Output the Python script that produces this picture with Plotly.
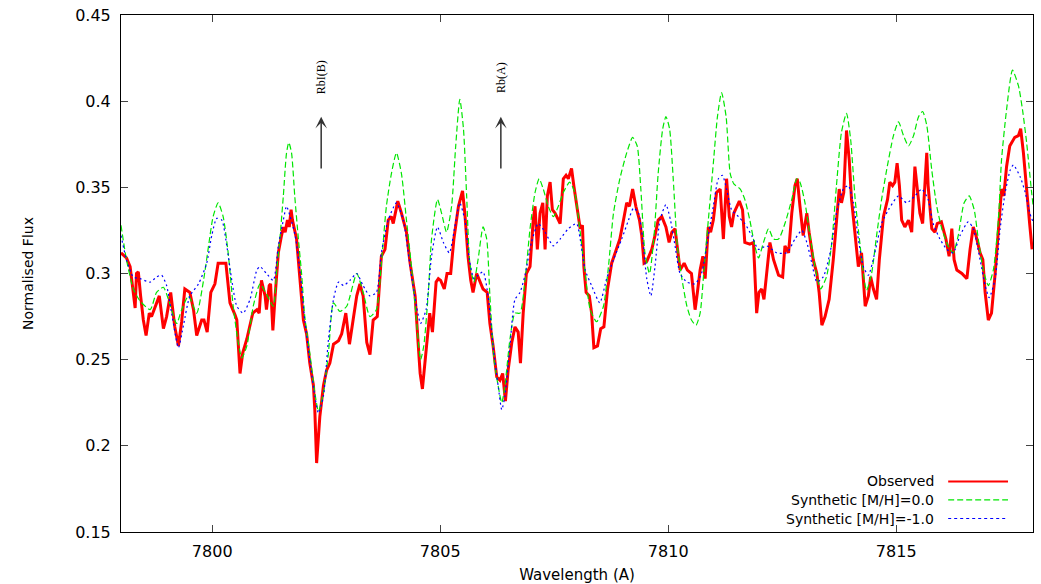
import plotly.graph_objects as go

# ---------------- data ----------------
obs_x = [7798.00, 7798.12, 7798.20, 7798.27, 7798.31, 7798.34, 7798.38, 7798.43, 7798.49, 7798.55,
         7798.62, 7798.67, 7798.75, 7798.84, 7798.93, 7799.00, 7799.09, 7799.18, 7799.26, 7799.33,
         7799.40, 7799.51, 7799.59, 7799.66, 7799.77, 7799.82, 7799.89, 7799.97, 7800.06, 7800.13,
         7800.30, 7800.39, 7800.50, 7800.54, 7800.61, 7800.67, 7800.76, 7800.89, 7800.98, 7801.03,
         7801.08, 7801.16, 7801.19, 7801.25, 7801.28, 7801.33, 7801.38, 7801.45, 7801.52, 7801.56,
         7801.60, 7801.65, 7801.69, 7801.73, 7801.76, 7801.81, 7801.85, 7801.92, 7802.00, 7802.07,
         7802.14, 7802.22, 7802.25, 7802.29, 7802.33, 7802.36, 7802.44, 7802.51, 7802.58, 7802.66,
         7802.77, 7802.84, 7802.93, 7803.01,
         7803.09, 7803.17, 7803.24, 7803.31, 7803.39, 7803.46, 7803.53, 7803.62, 7803.71, 7803.79,
         7803.86, 7803.93, 7803.97, 7804.07, 7804.15, 7804.26, 7804.34, 7804.45, 7804.52, 7804.56,
         7804.61, 7804.66, 7804.72, 7804.77, 7804.83, 7804.91, 7804.96, 7805.01, 7805.09, 7805.15,
         7805.23, 7805.30, 7805.40, 7805.49, 7805.54, 7805.61, 7805.67, 7805.72, 7805.80, 7805.86,
         7805.94, 7806.03, 7806.09, 7806.16, 7806.24, 7806.31, 7806.37, 7806.43, 7806.49, 7806.57,
         7806.64, 7806.71, 7806.76, 7806.82, 7806.89, 7806.97, 7807.04, 7807.08, 7807.13, 7807.19,
         7807.25, 7807.30, 7807.35, 7807.41, 7807.46, 7807.52, 7807.63, 7807.70, 7807.76, 7807.81,
         7807.88, 7807.93, 7808.03,
         7808.07, 7808.12, 7808.15, 7808.20, 7808.27, 7808.32, 7808.37, 7808.45, 7808.52, 7808.59,
         7808.67, 7808.76, 7808.87, 7808.94, 7809.02, 7809.09, 7809.15, 7809.22, 7809.29, 7809.37,
         7809.42, 7809.47, 7809.53, 7809.64, 7809.71, 7809.78, 7809.86, 7809.95, 7810.02, 7810.08,
         7810.15, 7810.20, 7810.26, 7810.35, 7810.42, 7810.51, 7810.59, 7810.64, 7810.70, 7810.76,
         7810.81, 7810.88, 7810.93, 7810.99, 7811.06, 7811.14, 7811.21, 7811.28, 7811.34, 7811.39,
         7811.44, 7811.56, 7811.63, 7811.68, 7811.79, 7811.87, 7811.90, 7811.94, 7811.99, 7812.05,
         7812.10, 7812.16, 7812.23, 7812.31, 7812.42, 7812.51, 7812.56, 7812.64, 7812.71, 7812.78,
         7812.83,
         7812.89, 7812.96, 7813.04, 7813.09, 7813.18, 7813.26, 7813.31, 7813.37, 7813.44, 7813.53,
         7813.62, 7813.69, 7813.75, 7813.80, 7813.85, 7813.91, 7813.97, 7814.02, 7814.10, 7814.17,
         7814.24, 7814.32, 7814.39, 7814.44, 7814.50, 7814.57, 7814.63, 7814.72, 7814.81, 7814.86,
         7814.92, 7814.97, 7815.02, 7815.07, 7815.12, 7815.19, 7815.27, 7815.34, 7815.41, 7815.46,
         7815.52, 7815.58, 7815.63, 7815.67, 7815.70, 7815.78, 7815.85, 7815.90, 7815.99, 7816.09,
         7816.16, 7816.22, 7816.27, 7816.33, 7816.44, 7816.55, 7816.62, 7816.69, 7816.75, 7816.84,
         7816.90, 7816.95, 7817.02, 7817.09, 7817.17, 7817.24, 7817.31, 7817.36, 7817.42, 7817.49,
         7817.60, 7817.68, 7817.73, 7817.79, 7817.86, 7817.93, 7817.98]
obs_y = [0.312, 0.309, 0.304, 0.289, 0.280, 0.300, 0.301, 0.287, 0.273, 0.264,
         0.277, 0.275, 0.281, 0.287, 0.268, 0.275, 0.289, 0.269, 0.258, 0.272,
         0.291, 0.289, 0.279, 0.264, 0.273, 0.273, 0.266, 0.289, 0.294, 0.306,
         0.306, 0.283, 0.276, 0.273, 0.242, 0.254, 0.262, 0.277, 0.279, 0.277,
         0.296, 0.287, 0.279, 0.293, 0.294, 0.267, 0.287, 0.312, 0.322, 0.327,
         0.324, 0.331, 0.327, 0.337, 0.331, 0.324, 0.320, 0.298, 0.273, 0.265,
         0.248, 0.235, 0.221, 0.190, 0.207, 0.217, 0.235, 0.244, 0.248, 0.259,
         0.261, 0.265, 0.277, 0.259,
         0.273, 0.287, 0.294, 0.287, 0.260, 0.253, 0.273, 0.275, 0.310, 0.314,
         0.331, 0.333, 0.329, 0.342, 0.335, 0.324, 0.306, 0.287, 0.258, 0.242,
         0.233, 0.246, 0.264, 0.277, 0.266, 0.295, 0.297, 0.296, 0.291, 0.300,
         0.300, 0.320, 0.339, 0.348, 0.335, 0.310, 0.296, 0.289, 0.300, 0.296,
         0.291, 0.289, 0.271, 0.258, 0.240, 0.238, 0.242, 0.226, 0.244, 0.260,
         0.269, 0.266, 0.248, 0.277, 0.300, 0.304, 0.331, 0.339, 0.314, 0.335,
         0.341, 0.314, 0.345, 0.353, 0.337, 0.335, 0.329, 0.355, 0.357, 0.355,
         0.361, 0.351, 0.335,
         0.326, 0.328, 0.304, 0.289, 0.287, 0.277, 0.257, 0.258, 0.268, 0.269,
         0.291, 0.306, 0.314, 0.320, 0.331, 0.341, 0.339, 0.349, 0.339, 0.331,
         0.322, 0.306, 0.307, 0.314, 0.322, 0.331, 0.333, 0.327, 0.318, 0.324,
         0.326, 0.314, 0.302, 0.306, 0.302, 0.300, 0.279, 0.289, 0.302, 0.310,
         0.297, 0.327, 0.324, 0.331, 0.347, 0.349, 0.320, 0.355, 0.333, 0.327,
         0.335, 0.342, 0.337, 0.318, 0.317, 0.318, 0.300, 0.277, 0.289, 0.291,
         0.285, 0.300, 0.318, 0.308, 0.299, 0.298, 0.316, 0.312, 0.335, 0.351,
         0.355,
         0.339, 0.322, 0.335, 0.324, 0.308, 0.300, 0.289, 0.270, 0.275, 0.285,
         0.308, 0.329, 0.349, 0.341, 0.347, 0.383, 0.366, 0.343, 0.324, 0.304,
         0.312, 0.281, 0.287, 0.298, 0.291, 0.285, 0.308, 0.333, 0.343, 0.353,
         0.351, 0.353, 0.364, 0.351, 0.331, 0.327, 0.331, 0.324, 0.362, 0.351,
         0.335, 0.329, 0.355, 0.370, 0.351, 0.326, 0.324, 0.329, 0.330, 0.320,
         0.310, 0.326, 0.308, 0.302, 0.300, 0.297, 0.314, 0.327, 0.322, 0.312,
         0.308, 0.289, 0.273, 0.277, 0.300, 0.326, 0.349, 0.345, 0.362, 0.374,
         0.379, 0.380, 0.384, 0.370, 0.351, 0.328, 0.314]

syn0_x = [7798.00, 7798.12, 7798.27, 7798.42, 7798.64, 7798.78, 7798.93, 7799.04, 7799.22, 7799.33,
          7799.48, 7799.66, 7799.81, 7799.92, 7800.02, 7800.13, 7800.24, 7800.35, 7800.46, 7800.57,
          7800.65, 7800.76, 7800.90, 7801.05, 7801.19, 7801.34, 7801.41, 7801.49, 7801.56, 7801.63,
          7801.68, 7801.74, 7801.81, 7801.89, 7801.96, 7802.03, 7802.14, 7802.25, 7802.33, 7802.44,
          7802.55, 7802.66, 7802.80, 7802.95,
          7803.17, 7803.31, 7803.46, 7803.60, 7803.71, 7803.82, 7803.93, 7804.04, 7804.15, 7804.26,
          7804.37, 7804.48, 7804.57, 7804.64, 7804.74, 7804.81, 7804.94, 7805.03, 7805.14, 7805.25,
          7805.34, 7805.43, 7805.51, 7805.58, 7805.65, 7805.74, 7805.83, 7805.94, 7806.02, 7806.09,
          7806.18, 7806.27, 7806.35, 7806.42, 7806.53, 7806.64, 7806.75, 7806.86, 7806.97, 7807.08,
          7807.17, 7807.26, 7807.37, 7807.48, 7807.59, 7807.70, 7807.84, 7807.95,
          7808.07, 7808.18, 7808.29, 7808.43, 7808.58, 7808.69, 7808.80, 7808.94, 7809.09, 7809.22,
          7809.32, 7809.40, 7809.49, 7809.59, 7809.69, 7809.78, 7809.88, 7809.95, 7810.03, 7810.11,
          7810.20, 7810.30, 7810.41, 7810.51, 7810.61, 7810.70, 7810.79, 7810.88, 7810.99, 7811.08,
          7811.17, 7811.27, 7811.36, 7811.44, 7811.58, 7811.68, 7811.79, 7811.90, 7811.98, 7812.09,
          7812.20, 7812.31, 7812.42, 7812.56, 7812.71, 7812.82,
          7812.89, 7813.00, 7813.11, 7813.22, 7813.34, 7813.47, 7813.58, 7813.69, 7813.80, 7813.91,
          7814.00, 7814.10, 7814.21, 7814.28, 7814.35, 7814.46, 7814.57, 7814.68, 7814.79, 7814.94,
          7815.05, 7815.16, 7815.27, 7815.38, 7815.49, 7815.58, 7815.67, 7815.78, 7815.89, 7816.00,
          7816.14, 7816.25, 7816.36, 7816.49, 7816.60, 7816.71, 7816.80, 7816.91, 7817.02, 7817.13,
          7817.24, 7817.31, 7817.42, 7817.55, 7817.68, 7817.77, 7817.86, 7817.97, 7818.00]
syn0_y = [0.328, 0.308, 0.291, 0.284, 0.279, 0.289, 0.292, 0.285, 0.271, 0.279,
          0.287, 0.277, 0.296, 0.316, 0.333, 0.341, 0.333, 0.312, 0.281, 0.260,
          0.251, 0.258, 0.281, 0.294, 0.288, 0.281, 0.300, 0.322, 0.345, 0.370,
          0.376, 0.370, 0.345, 0.320, 0.300, 0.275, 0.254, 0.231, 0.220, 0.231,
          0.254, 0.283, 0.278, 0.281,
          0.300, 0.289, 0.275, 0.279, 0.306, 0.339, 0.358, 0.370, 0.358, 0.331,
          0.304, 0.273, 0.250, 0.258, 0.289, 0.320, 0.343, 0.335, 0.324, 0.339,
          0.374, 0.401, 0.384, 0.345, 0.306, 0.295, 0.308, 0.327, 0.320, 0.287,
          0.250, 0.235, 0.225, 0.235, 0.262, 0.277, 0.277, 0.296, 0.326, 0.347,
          0.355, 0.349, 0.339, 0.333, 0.339, 0.347, 0.353, 0.347,
          0.324, 0.300, 0.279, 0.272, 0.281, 0.304, 0.335, 0.355, 0.370, 0.379,
          0.374, 0.349, 0.312, 0.300, 0.322, 0.358, 0.384, 0.391, 0.384, 0.355,
          0.316, 0.297, 0.281, 0.273, 0.270, 0.277, 0.304, 0.331, 0.364, 0.391,
          0.405, 0.391, 0.358, 0.352, 0.349, 0.343, 0.331, 0.316, 0.309, 0.318,
          0.326, 0.320, 0.320, 0.329, 0.343, 0.355,
          0.353, 0.341, 0.322, 0.304, 0.291, 0.298, 0.316, 0.351, 0.382, 0.393,
          0.378, 0.343, 0.316, 0.300, 0.290, 0.300, 0.322, 0.343, 0.360, 0.380,
          0.388, 0.380, 0.374, 0.380, 0.391, 0.394, 0.386, 0.360, 0.339, 0.326,
          0.316, 0.312, 0.322, 0.341, 0.345, 0.337, 0.320, 0.302, 0.293, 0.302,
          0.331, 0.366, 0.395, 0.418, 0.409, 0.395, 0.376, 0.347, 0.340]

synm1_x = [7798.00, 7798.12, 7798.27, 7798.42, 7798.64, 7798.78, 7798.89, 7799.00, 7799.11, 7799.26,
           7799.37, 7799.51, 7799.70, 7799.88, 7799.99, 7800.10, 7800.21, 7800.32, 7800.43, 7800.54,
           7800.68, 7800.83, 7800.98, 7801.05, 7801.19, 7801.34, 7801.45, 7801.56, 7801.63, 7801.71,
           7801.82, 7801.93, 7802.03, 7802.14, 7802.25, 7802.33, 7802.44, 7802.55, 7802.66, 7802.77,
           7802.88, 7803.02,
           7803.17, 7803.31, 7803.46, 7803.60, 7803.71, 7803.86, 7804.04, 7804.19, 7804.34, 7804.48,
           7804.57, 7804.69, 7804.81, 7804.94, 7805.07, 7805.20, 7805.32, 7805.43, 7805.54, 7805.64,
           7805.74, 7805.83, 7805.94, 7806.05, 7806.16, 7806.27, 7806.35, 7806.42, 7806.53, 7806.64,
           7806.75, 7806.86, 7807.00, 7807.15, 7807.30, 7807.48, 7807.63, 7807.81, 7807.99,
           7808.07, 7808.18, 7808.32, 7808.50, 7808.65, 7808.80, 7808.98, 7809.13, 7809.24, 7809.35,
           7809.44, 7809.53, 7809.62, 7809.71, 7809.82, 7809.95, 7810.05, 7810.15, 7810.26, 7810.41,
           7810.59, 7810.73, 7810.88, 7810.99, 7811.10, 7811.19, 7811.28, 7811.39, 7811.54, 7811.68,
           7811.83, 7811.98, 7812.16, 7812.38, 7812.60, 7812.78, 7812.93, 7813.04, 7813.15,
           7813.26, 7813.40, 7813.55, 7813.69, 7813.84, 7813.95, 7814.06, 7814.17, 7814.28, 7814.39,
           7814.53, 7814.68, 7814.83, 7815.05, 7815.23, 7815.41, 7815.56, 7815.70, 7815.81, 7815.96,
           7816.11, 7816.25, 7816.40, 7816.58, 7816.69, 7816.84, 7816.95, 7817.04, 7817.17, 7817.28,
           7817.39, 7817.50, 7817.57, 7817.72, 7817.83, 7817.93, 7818.00]
synm1_y = [0.322, 0.308, 0.298, 0.297, 0.295, 0.298, 0.299, 0.293, 0.277, 0.257,
           0.270, 0.287, 0.294, 0.306, 0.322, 0.332, 0.331, 0.316, 0.296, 0.281,
           0.277, 0.285, 0.302, 0.304, 0.300, 0.296, 0.316, 0.331, 0.339, 0.333,
           0.322, 0.300, 0.273, 0.250, 0.229, 0.219, 0.229, 0.262, 0.285, 0.295,
           0.293, 0.296,
           0.300, 0.293, 0.287, 0.289, 0.312, 0.331, 0.341, 0.331, 0.304, 0.281,
           0.271, 0.279, 0.310, 0.327, 0.318, 0.312, 0.327, 0.341, 0.331, 0.308,
           0.297, 0.299, 0.301, 0.287, 0.258, 0.235, 0.221, 0.229, 0.258, 0.285,
           0.289, 0.299, 0.318, 0.329, 0.324, 0.316, 0.320, 0.326, 0.329,
           0.320, 0.302, 0.293, 0.283, 0.297, 0.308, 0.320, 0.331, 0.338, 0.335,
           0.320, 0.297, 0.287, 0.304, 0.331, 0.340, 0.331, 0.316, 0.300, 0.295,
           0.294, 0.300, 0.322, 0.339, 0.355, 0.357, 0.349, 0.337, 0.333, 0.329,
           0.322, 0.314, 0.316, 0.312, 0.312, 0.320, 0.325, 0.318, 0.306,
           0.295, 0.298, 0.312, 0.335, 0.349, 0.351, 0.341, 0.320, 0.304, 0.299,
           0.312, 0.329, 0.337, 0.345, 0.341, 0.345, 0.349, 0.343, 0.329, 0.320,
           0.314, 0.312, 0.322, 0.330, 0.326, 0.308, 0.293, 0.286, 0.297, 0.326,
           0.347, 0.360, 0.363, 0.356, 0.347, 0.335, 0.330]

series_names = ["Observed", "Synthetic [M/H]=0.0", "Synthetic [M/H]=-1.0"]
series_colors = ["#ff0000", "#00e600", "#0000ff"]

x_ticks = [7800, 7805, 7810, 7815]
y_ticks = [0.15, 0.2, 0.25, 0.3, 0.35, 0.4, 0.45]
y_tick_text = ["0.15", "0.2", "0.25", "0.3", "0.35", "0.4", "0.45"]

line_labels = ["RbI(B)", "Rb(A)"]
line_wavelengths = [7802.39, 7806.33]
arrow_base = 0.360
arrow_tip = 0.391
label_y = 0.414

# ---------------- figure ----------------
fig = go.Figure()
fig.add_trace(go.Scatter(x=obs_x, y=obs_y, mode="lines", name=series_names[0],
                         line=dict(color=series_colors[0], width=3)))
fig.add_trace(go.Scatter(x=syn0_x, y=syn0_y, mode="lines", name=series_names[1],
                         line=dict(color=series_colors[1], width=1.2, dash="6px,3px",
                                   shape="spline", smoothing=0.6)))
fig.add_trace(go.Scatter(x=synm1_x, y=synm1_y, mode="lines", name=series_names[2],
                         line=dict(color=series_colors[2], width=1.2, dash="2px,3px",
                                   shape="spline", smoothing=0.6)))

axis_font = dict(family="DejaVu Sans", size=16, color="#000000")

fig.update_xaxes(range=[7798, 7818], tickvals=x_ticks, ticks="inside", ticklen=7,
                 tickcolor="#444444", showline=True, linecolor="#000000", linewidth=1,
                 mirror="allticks", showgrid=False, zeroline=False, tickfont=axis_font,
                 automargin=False,
                 title=dict(text="Wavelength (A)",
                            font=dict(family="DejaVu Sans", size=15, color="#000000"),
                            standoff=11),
                 ticklabelstandoff=5)
fig.update_yaxes(range=[0.15, 0.45], tickvals=y_ticks, ticktext=y_tick_text, ticks="inside",
                 ticklen=7, tickcolor="#444444", showline=True, linecolor="#000000", linewidth=1,
                 mirror="allticks", showgrid=False, zeroline=False, tickfont=axis_font,
                 automargin=False,
                 title=dict(text="Normalised Flux",
                            font=dict(family="DejaVu Sans", size=14, color="#000000"),
                            standoff=38),
                 ticklabelstandoff=6)

# spectral line markers
for lab, wl in zip(line_labels, line_wavelengths):
    fig.add_annotation(x=wl, y=arrow_tip, ax=wl, ay=arrow_base, xref="x", yref="y",
                       axref="x", ayref="y", text="", showarrow=True, arrowhead=3,
                       arrowsize=1.3, arrowwidth=1.5, arrowcolor="#333333")
    fig.add_annotation(x=wl, y=label_y, xref="x", yref="y", text=lab, showarrow=False,
                       textangle=-90,
                       font=dict(family="Liberation Serif", size=12, color="#000000"))

# legend (text right-aligned, sample line to the right, as in the reference)
legend_rows_y = [0.0978, 0.062, 0.0261]
legend_dash = ["solid", "6px,3px", "3px,3px"]
legend_width = [2, 1.2, 1.2]
for name, col, yy, dsh, w in zip(series_names, series_colors, legend_rows_y, legend_dash, legend_width):
    fig.add_annotation(x=0.8925, y=yy, xref="paper", yref="paper", text=name, showarrow=False,
                       xanchor="right", yanchor="middle", borderpad=0,
                       font=dict(family="DejaVu Sans", size=14, color="#000000"))
    fig.add_shape(type="line", xref="paper", yref="paper", x0=0.907, x1=0.9726, y0=yy, y1=yy,
                  line=dict(color=col, width=w, dash=dsh))

fig.update_layout(width=1041, height=584, margin=dict(l=121, r=8, t=15, b=52),
                  paper_bgcolor="#ffffff", plot_bgcolor="#ffffff", showlegend=False)

fig.write_html("out.html", config={"displayModeBar": False},
               post_script="document.body.style.margin='0';document.body.style.overflow='hidden';")
